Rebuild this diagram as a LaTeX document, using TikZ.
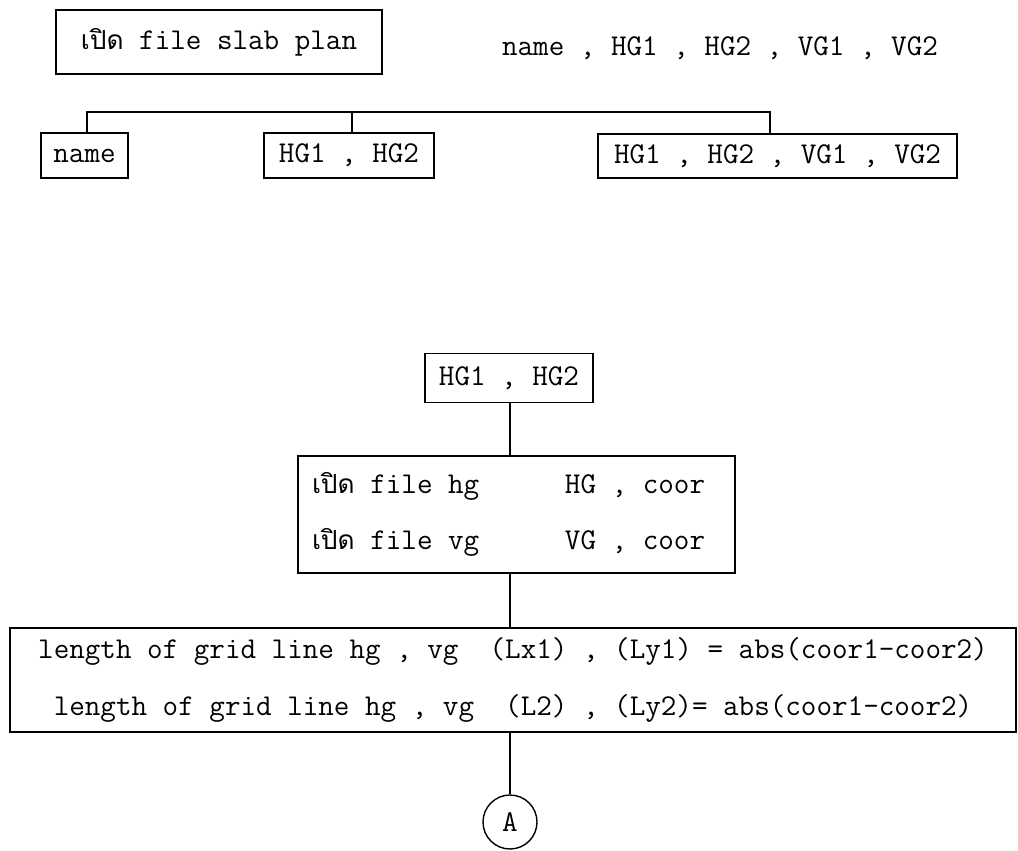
\documentclass[tikz,border=0pt]{standalone}
\usepackage{fontspec}
\newfontfamily\thaifont[Script=Thai,Scale=0.87]{Loma}
\usetikzlibrary{positioning}

\newcommand{\openth}{{\thaifont เปิด}}

\begin{document}
\begin{tikzpicture}[
        x=0.2mm, y=-0.2mm,
        % Define styles for the nodes
        base_box/.style={rectangle, draw=black, line width=0.8pt, inner sep=0pt, font=\fontsize{17.2}{32}\selectfont\ttfamily},
        plain_text/.style={inner sep=0pt, font=\fontsize{17.2}{32}\selectfont\ttfamily},
        % Styles for connectors
        conn/.style={line width=0.8pt}
    ]
    \useasboundingbox (0,0) rectangle (1018,850);

    % =========================================================================
    % TOP - OPEN SLAB PLAN AND ITS FIELDS
    % =========================================================================
    \node (slab) [base_box, minimum width=65.2mm, minimum height=12.8mm] at (219,42) {\openth\ file slab plan};

    \node (fields) [plain_text] at (720,48) {name , HG1 , HG2 , VG1 , VG2};

    \node (name) [base_box, minimum width=17.4mm, minimum height=9mm] at (84.5,155.5) {name};
    \node (hg) [base_box, minimum width=34mm, minimum height=9mm] at (349,155.5) {HG1 , HG2};
    \node (hgvg) [base_box, minimum width=71.8mm, minimum height=8.8mm] at (777.5,156) {HG1 , HG2 , VG1 , VG2};

    \coordinate (bar) at (0,112);
    \draw [conn] ([xshift=0.5mm]name.north) |- ([xshift=-1.5mm]hgvg.north |- bar) -- ([xshift=-1.5mm]hgvg.north);
    \draw [conn] ([xshift=0.6mm]hg.north) -- ([xshift=0.6mm]hg.north |- bar);

    % =========================================================================
    % BOTTOM - HG1 , HG2 BRANCH
    % =========================================================================
    \coordinate (spine) at (510,0);

    \node (hgpair) [base_box, minimum width=33.6mm, minimum height=9.8mm] at (509,378) {HG1 , HG2};

    \node (openfiles) [base_box, align=left, inner xsep=2.8mm, minimum height=23.4mm] at (516.5,514.5)
        {\makebox[81.8mm][l]{\makebox[50.6mm][l]{\openth\ file hg}HG , coor}\\
         \makebox[81.8mm][l]{\makebox[50.6mm][l]{\openth\ file vg}VG , coor}};
    \draw [conn] (hgpair.south -| spine) -- (openfiles.north -| spine);

    \node (gridlen) [base_box, align=center, minimum width=201.2mm, minimum height=20.8mm] at (513,680)
        {length of grid line hg , vg~~(Lx1) , (Ly1) = abs(coor1-coor2)\\
         length of grid line hg , vg~~(L2) , (Ly2)= abs(coor1-coor2)};
    \draw [conn] (openfiles.south -| spine) -- (gridlen.north -| spine);

    \node (conA) [base_box, circle, minimum size=10.8mm] at (510,822) {A};
    \draw [conn] (gridlen.south -| spine) -- (conA);

\end{tikzpicture}
\end{document}
